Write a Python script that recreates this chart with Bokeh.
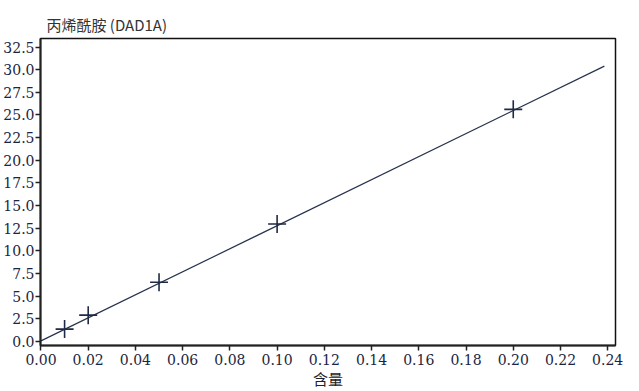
from bokeh.plotting import figure
from bokeh.models import Range1d, FixedTicker, NumeralTickFormatter
from bokeh.embed import file_html
from bokeh.resources import INLINE

# ---- data ----
conc = [0.01, 0.02, 0.05, 0.10, 0.20]          # 含量
area = [1.36, 2.90, 6.53, 12.97, 25.62]        # response
fit_x = [0.0, 0.2386]                          # calibration line ends
fit_y = [0.06, 30.39]
x_ticks = [0.00, 0.02, 0.04, 0.06, 0.08, 0.10, 0.12, 0.14, 0.16, 0.18, 0.20, 0.22, 0.24]
y_ticks = [0.0, 2.5, 5.0, 7.5, 10.0, 12.5, 15.0, 17.5, 20.0, 22.5, 25.0, 27.5, 30.0, 32.5]
title_text = "丙烯酰胺 (DAD1A)"
x_label = "含量"

TXT = "#1c2540"
NUM_FONT = "DejaVu Serif"
CJK_FONT = "Noto Sans CJK SC"

x0, x1 = -0.0002, 0.2433
p = figure(width=639, height=391,
           x_range=Range1d(x0, x1), y_range=Range1d(-0.45, 33.44),
           output_backend="svg", toolbar_location=None,
           min_border_left=0, min_border_right=24,
           min_border_top=38, min_border_bottom=0)

p.title.text = title_text
p.title.text_font = CJK_FONT
p.title.text_font_size = "15px"
p.title.text_font_style = "normal"
p.title.text_color = "#333333"
p.title.offset = 6
p.title.standoff = 8

p.xgrid.visible = False
p.ygrid.visible = False
p.outline_line_color = "#111111"
p.outline_line_width = 1.5
p.background_fill_color = "white"
p.border_fill_color = "white"

for ax in (p.xaxis[0], p.yaxis[0]):
    ax.axis_line_color = "#222222"
    ax.axis_line_width = 2
    ax.major_tick_line_color = "#222222"
    ax.major_tick_line_width = 1.5
    ax.major_tick_out = 5
    ax.major_tick_in = 0
    ax.minor_tick_line_color = None
    ax.major_label_text_font = NUM_FONT
    ax.major_label_text_font_size = "14px"
    ax.major_label_text_color = TXT

p.xaxis.ticker = FixedTicker(ticks=x_ticks)
p.yaxis.ticker = FixedTicker(ticks=y_ticks)
p.xaxis.formatter = NumeralTickFormatter(format="0.00")
p.yaxis.formatter = NumeralTickFormatter(format="0.0")
p.xaxis.major_label_standoff = 3
p.yaxis.major_label_standoff = 1

p.xaxis.axis_label = x_label
p.xaxis.axis_label_text_font = CJK_FONT
p.xaxis.axis_label_text_font_size = "15px"
p.xaxis.axis_label_text_font_style = "normal"
p.xaxis.axis_label_text_color = "#222222"
p.xaxis.axis_label_standoff = 0

p.line(fit_x, fit_y, line_color="#27324d", line_width=1.2)
p.scatter(conc, area, marker="cross", size=18, line_color="#1f2a44", line_width=1.6)

open("out.html", "w").write(file_html(p, INLINE))
